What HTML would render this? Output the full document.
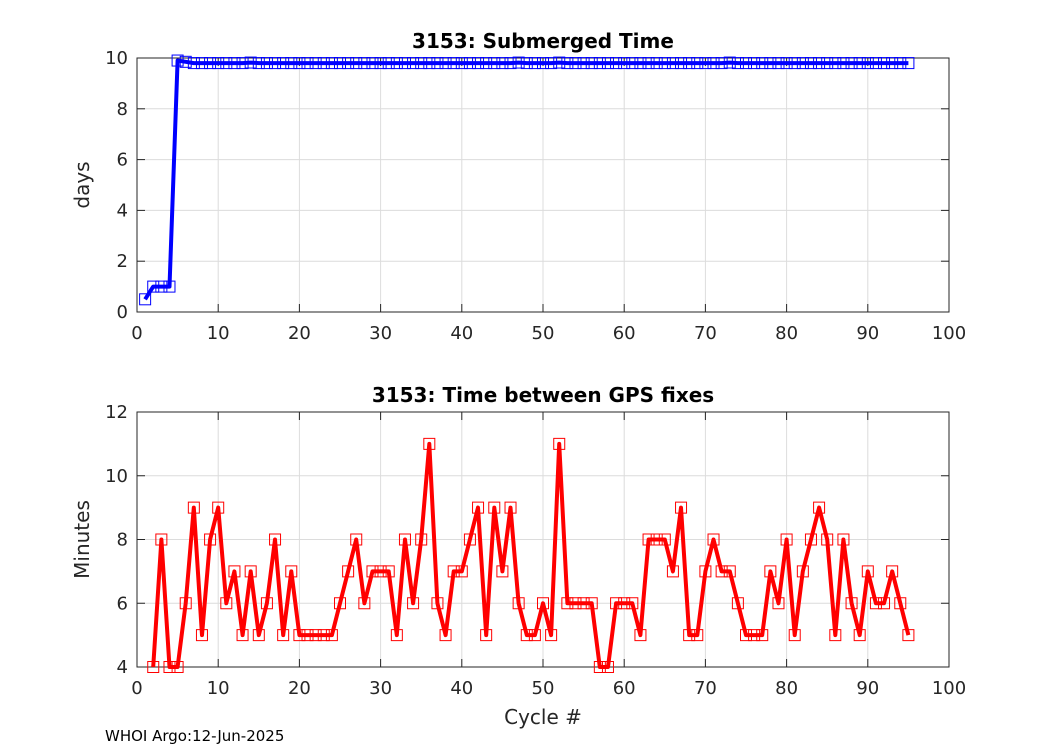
<!DOCTYPE html>
<html><head><meta charset="utf-8"><style>
body{margin:0;background:#fff;}
svg{display:block;font-family:"DejaVu Sans","Liberation Sans",sans-serif;}
</style></head><body>
<svg id="fig" width="1050" height="750" xmlns="http://www.w3.org/2000/svg">
<rect width="1050" height="750" fill="#fff"/>
</svg>
<script>
const topCycles=[1,2,3,4,5,6,7,8,9,10,11,12,13,14,15,16,17,18,19,20,21,22,23,24,25,26,27,28,29,30,31,32,33,34,35,36,37,38,39,40,41,42,43,44,45,46,47,48,49,50,51,52,53,54,55,56,57,58,59,60,61,62,63,64,65,66,67,68,69,70,71,72,73,74,75,76,77,78,79,80,81,82,83,84,85,86,87,88,89,90,91,92,93,94,95];
const topDays=[0.5,1.0,1.0,1.0,9.9,9.85,9.8,9.8,9.8,9.8,9.8,9.8,9.8,9.82,9.8,9.8,9.8,9.8,9.8,9.8,9.8,9.8,9.8,9.8,9.8,9.8,9.8,9.8,9.8,9.8,9.8,9.8,9.8,9.8,9.8,9.8,9.8,9.8,9.8,9.8,9.8,9.8,9.8,9.8,9.8,9.8,9.82,9.8,9.8,9.8,9.8,9.82,9.8,9.8,9.8,9.8,9.8,9.8,9.8,9.8,9.8,9.8,9.8,9.8,9.8,9.8,9.8,9.8,9.8,9.8,9.8,9.8,9.82,9.8,9.8,9.8,9.8,9.8,9.8,9.8,9.8,9.8,9.8,9.8,9.8,9.8,9.8,9.8,9.8,9.8,9.8,9.8,9.8,9.8,9.8];
const botCycles=[2,3,4,5,6,7,8,9,10,11,12,13,14,15,16,17,18,19,20,21,22,23,24,25,26,27,28,29,30,31,32,33,34,35,36,37,38,39,40,41,42,43,44,45,46,47,48,49,50,51,52,53,54,55,56,57,58,59,60,61,62,63,64,65,66,67,68,69,70,71,72,73,74,75,76,77,78,79,80,81,82,83,84,85,86,87,88,89,90,91,92,93,94,95];
const botMinutes=[4,8,4,4,6,9,5,8,9,6,7,5,7,5,6,8,5,7,5,5,5,5,5,6,7,8,6,7,7,7,5,8,6,8,11,6,5,7,7,8,9,5,9,7,9,6,5,5,6,5,11,6,6,6,6,4,4,6,6,6,5,8,8,8,7,9,5,5,7,8,7,7,6,5,5,5,7,6,8,5,7,8,9,8,5,8,6,5,7,6,6,7,6,5];
const xTicks=[0,10,20,30,40,50,60,70,80,90,100];
const topYTicks=[0,2,4,6,8,10];
const botYTicks=[4,6,8,10,12];

const NS="http://www.w3.org/2000/svg";
const svg=document.getElementById('fig');
function mk(tag,attrs,parent){const e=document.createElementNS(NS,tag);for(const k in attrs)e.setAttribute(k,attrs[k]);(parent||svg).appendChild(e);return e;}
const L=137,R=949;
function xs(v){return L+(v-0)/100*(R-L);}

function axes(top,bottom,ymin,ymax,yTicks,title,ylabel,xData,yData,color,name){
  const ys=v=>bottom-(v-ymin)/(ymax-ymin)*(bottom-top);
  const g=mk('g',{});
  
  
  mk('rect',{x:L,y:top,width:R-L,height:bottom-top,fill:'#fff'},g);
  xTicks.forEach(t=>{
    const gl=mk('line',{x1:xs(t),x2:xs(t),y1:top,y2:bottom,stroke:'#dcdcdc','stroke-width':1},g);
    
    
    mk('line',{x1:xs(t),x2:xs(t),y1:bottom,y2:bottom-8,stroke:'#262626','stroke-width':1},g);
    mk('line',{x1:xs(t),x2:xs(t),y1:top,y2:top+8,stroke:'#262626','stroke-width':1},g);
    const tl=mk('text',{x:xs(t),y:bottom+27,'text-anchor':'middle','font-size':18,fill:'#262626'},g);
    tl.textContent=t;
    
    
  });
  yTicks.forEach(t=>{
    const gl=mk('line',{x1:L,x2:R,y1:ys(t),y2:ys(t),stroke:'#dcdcdc','stroke-width':1},g);
    
    
    mk('line',{x1:L,x2:L+8,y1:ys(t),y2:ys(t),stroke:'#262626','stroke-width':1},g);
    mk('line',{x1:R,x2:R-8,y1:ys(t),y2:ys(t),stroke:'#262626','stroke-width':1},g);
    const tl=mk('text',{x:L-9,y:ys(t)+6,'text-anchor':'end','font-size':18,fill:'#262626'},g);
    tl.textContent=t;
    
    
  });
  const box=mk('rect',{x:L,y:top,width:R-L,height:bottom-top,fill:'none',stroke:'#262626','stroke-width':1},g);
  
  
  const tt=mk('text',{x:(L+R)/2,y:top-10,'text-anchor':'middle','font-size':20,'font-weight':'bold',fill:'#000'},g);
  tt.textContent=title;
  
  
  const yl=mk('text',{x:0,y:0,'text-anchor':'middle','font-size':20,fill:'#262626',transform:`translate(89,${(top+bottom)/2}) rotate(-90)`},g);
  yl.textContent=ylabel;
  
  
  const pts=xData.map((x,i)=>xs(x).toFixed(1)+','+ys(yData[i]).toFixed(1)).join(' ');
  const line=mk('polyline',{points:pts,fill:'none',stroke:color,'stroke-width':4,'stroke-linejoin':'round'},g);
  
  
  xData.forEach((x,i)=>{
    const m=mk('rect',{x:xs(x)-5.5,y:ys(yData[i])-5.5,width:11,height:11,fill:'none',stroke:color,'stroke-width':1},g);
    
    
  });
}
axes(58,312,0,10,topYTicks,'3153: Submerged Time','days',topCycles,topDays,'#0000ff','submerged-time');
axes(412,667,4,12,botYTicks,'3153: Time between GPS fixes','Minutes',botCycles,botMinutes,'#ff0000','gps-fix');
const xl=mk('text',{x:543,y:724,'text-anchor':'middle','font-size':20,fill:'#262626'});
xl.textContent='Cycle #';


const ft=mk('text',{x:105,y:741,'font-size':15,fill:'#000'});
ft.textContent='WHOI Argo:12-Jun-2025';


</script>
</body></html>
